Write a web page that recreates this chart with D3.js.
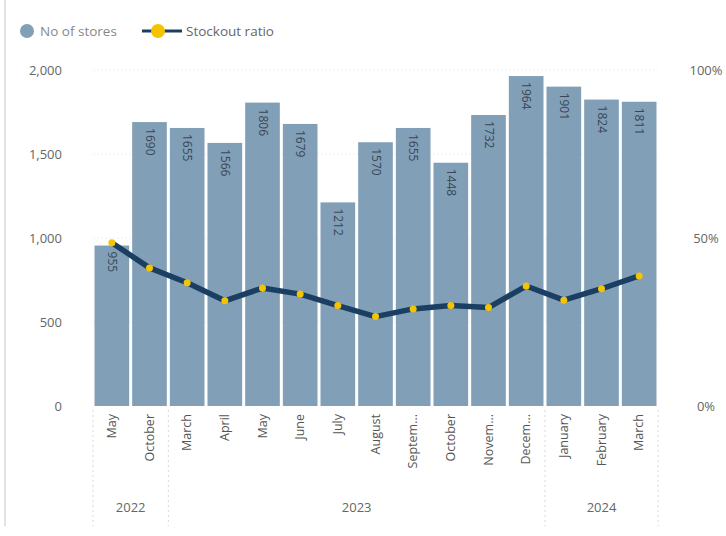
<!DOCTYPE html>
<html>
<head>
<meta charset="utf-8">
<script src="https://cdn.jsdelivr.net/npm/d3@7"></script>
<style>
  body { margin: 0; background: #fff; }
  text { font-family: "Open Sans", "Noto Sans", sans-serif; }
</style>
</head>
<body>
<div id="chart"></div>
<script>
// data
var months = ["May", "October", "March", "April", "May", "June", "July", "August",
  "Septem...", "October", "Novem...", "Decem...", "January", "February", "March"];
var years = ["2022", "2022", "2023", "2023", "2023", "2023", "2023", "2023",
  "2023", "2023", "2023", "2023", "2024", "2024", "2024"];
var stores = [955, 1690, 1655, 1566, 1806, 1679, 1212, 1570, 1655, 1448, 1732, 1964, 1901, 1824, 1811];
var stockout = [48.6, 41.1, 36.7, 31.3, 35.1, 33.3, 29.9, 26.6, 28.9, 29.9, 29.3, 35.7, 31.5, 34.9, 38.7];
var leftTicks = [0, 500, 1000, 1500, 2000];
var rightTicks = [0, 50, 100];

var W = 726, H = 536;
var margin = {top: 70, right: 68, bottom: 130, left: 93};
var width = W - margin.left - margin.right,
  height = H - margin.top - margin.bottom;

var barColor = "#819fb6", lineColor = "#1b3f63", dotColor = "#f5c400";

var svg = d3.select("#chart").append("svg")
  .attr("width", W)
  .attr("height", H);

// left border line
svg.append("line")
  .attr("x1", 5).attr("x2", 5).attr("y1", 0).attr("y2", 526)
  .attr("stroke", "#e2e2e2").attr("stroke-width", 2);

var g = svg.append("g")
  .attr("transform", "translate(" + margin.left + "," + margin.top + ")");

var idx = d3.range(months.length);
var x = d3.scaleBand().domain(idx).range([0, width]).paddingInner(0.08).paddingOuter(0.04);
var y = d3.scaleLinear().domain([0, 2000]).range([height, 0]);
var y2 = d3.scaleLinear().domain([0, 100]).range([height, 0]);

// grid
g.selectAll(".grid").data(leftTicks.filter(function(d) { return d > 0; }))
  .enter().append("line")
  .attr("x1", 0).attr("x2", width)
  .attr("y1", function(d) { return y(d); }).attr("y2", function(d) { return y(d); })
  .attr("stroke", "#eeeeee").attr("stroke-dasharray", "2,2");

// left axis
var yAxis = g.append("g")
  .call(d3.axisLeft(y).tickValues(leftTicks).tickFormat(d3.format(",")).tickSize(0).tickPadding(31));
yAxis.select(".domain").remove();
yAxis.selectAll("text").attr("fill", "#666").style("font-size", "13px");

// right axis
var yAxis2 = g.append("g")
  .attr("transform", "translate(" + (width + 48) + ",0)")
  .call(d3.axisRight(y2).tickValues(rightTicks).tickFormat(function(d) { return d + "%"; }).tickSize(0).tickPadding(0));
yAxis2.select(".domain").remove();
yAxis2.selectAll("text").attr("fill", "#666").attr("text-anchor", "middle").style("font-size", "13px");

// bars
g.selectAll(".bar").data(stores)
  .enter().append("rect")
  .attr("x", function(d, i) { return x(i); })
  .attr("y", function(d) { return y(d); })
  .attr("width", x.bandwidth())
  .attr("height", function(d) { return height - y(d); })
  .attr("fill", barColor);

// bar labels
g.selectAll(".blabel").data(stores)
  .enter().append("text")
  .attr("transform", function(d, i) {
    return "translate(" + (x(i) + x.bandwidth() / 2 - 4) + "," + (y(d) + 6) + ") rotate(90)";
  })
  .attr("fill", "#3a4656")
  .style("font-size", "12px")
  .text(function(d) { return d; });

// stockout line
var line = d3.line()
  .x(function(d, i) { return x(i) + x.bandwidth() / 2; })
  .y(function(d) { return y2(d); });

g.append("path")
  .datum(stockout)
  .attr("fill", "none")
  .attr("stroke", lineColor)
  .attr("stroke-width", 5.5)
  .attr("stroke-linejoin", "round")
  .attr("d", line);

g.selectAll(".dot").data(stockout)
  .enter().append("circle")
  .attr("cx", function(d, i) { return x(i) + x.bandwidth() / 2; })
  .attr("cy", function(d) { return y2(d); })
  .attr("r", 3.5)
  .attr("fill", dotColor);

// month labels
g.selectAll(".mlabel").data(months)
  .enter().append("text")
  .attr("transform", function(d, i) {
    return "translate(" + (x(i) + x.bandwidth() / 2 + 4) + "," + (height + 8) + ") rotate(-90)";
  })
  .attr("text-anchor", "end")
  .attr("fill", "#555")
  .style("font-size", "12.5px")
  .text(function(d) { return d; });

// year groups
var groups = [];
years.forEach(function(yr, i) {
  var last = groups[groups.length - 1];
  if (!last || last.year !== yr) groups.push({year: yr, start: i, end: i});
  else last.end = i;
});

var step = x.step();
function edge(i) { return x(i) - step * x.paddingInner() / 2; }
var seps = groups.map(function(gr) { return edge(gr.start); });
seps.push(edge(groups[groups.length - 1].end) + step);

g.selectAll(".sep").data(seps)
  .enter().append("line")
  .attr("x1", function(d) { return d; }).attr("x2", function(d) { return d; })
  .attr("y1", height + 4).attr("y2", height + 120)
  .attr("stroke", "#d8d8d8").attr("stroke-dasharray", "2,3");

g.selectAll(".ylabel").data(groups)
  .enter().append("text")
  .attr("x", function(d) { return (edge(d.start) + edge(d.end) + step) / 2; })
  .attr("y", height + 106)
  .attr("text-anchor", "middle")
  .attr("fill", "#666")
  .style("font-size", "13px")
  .text(function(d) { return d.year; });

// legend
var lg = svg.append("g").attr("transform", "translate(0,31)");
lg.append("circle").attr("cx", 27).attr("cy", 0).attr("r", 7).attr("fill", barColor);
lg.append("text").attr("x", 40).attr("y", 5).attr("fill", "#888").style("font-size", "13.5px").text("No of stores");
lg.append("line").attr("x1", 142).attr("x2", 182).attr("y1", 0).attr("y2", 0)
  .attr("stroke", lineColor).attr("stroke-width", 3);
lg.append("circle").attr("cx", 158).attr("cy", 0).attr("r", 7).attr("fill", dotColor);
lg.append("text").attr("x", 186).attr("y", 5).attr("fill", "#666").style("font-size", "13.5px").text("Stockout ratio");
</script>
</body>
</html>
